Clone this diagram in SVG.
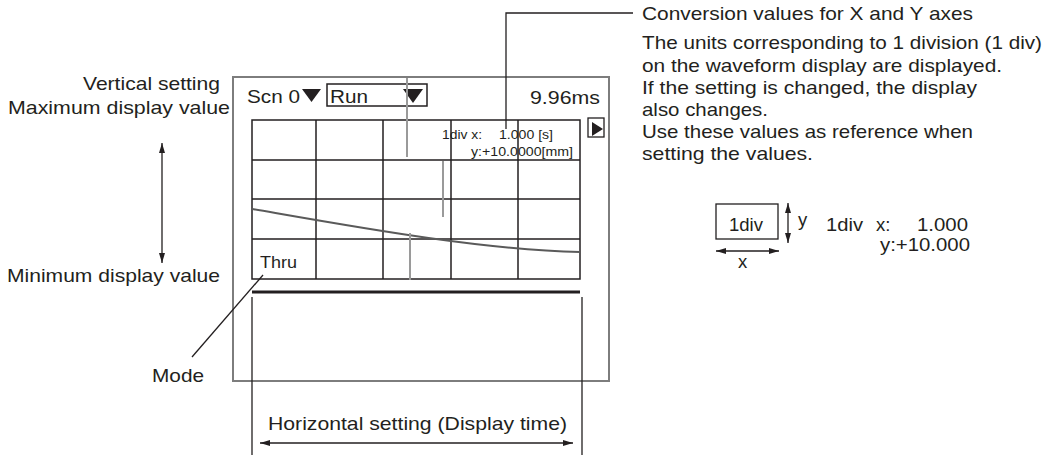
<svg xmlns="http://www.w3.org/2000/svg" width="1060" height="457" viewBox="0 0 1060 457">
<style>
text{font-family:"Liberation Sans",Arial,Helvetica,sans-serif;fill:#231f20;font-size:18.5px}
.sm{font-size:13px}
.th{font-size:17px}
.frame{fill:none;stroke:#7d7d7d;stroke-width:2}
.grid{fill:none;stroke:#231f20;stroke-width:1.5}
.cur{stroke:#9a9a9a;stroke-width:2}
.ln{fill:none;stroke:#231f20;stroke-width:1.3}
.ar{fill:none;stroke:#231f20;stroke-width:1.3;marker-start:url(#ah);marker-end:url(#ah)}
</style>
<defs>
<marker id="ah" viewBox="0 0 10 6" refX="10" refY="3" markerWidth="10" markerHeight="6" markerUnits="userSpaceOnUse" orient="auto-start-reverse">
<path d="M0,0 L10,3 L0,6 Z" fill="#231f20"/>
</marker>
</defs>
<rect width="1060" height="457" fill="#fff"/>

<g id="vertical-setting">
<text x="83" y="90" textLength="137" lengthAdjust="spacingAndGlyphs">Vertical setting</text>
<text x="8" y="114" textLength="222" lengthAdjust="spacingAndGlyphs">Maximum display value</text>
<text x="7" y="282" textLength="213" lengthAdjust="spacingAndGlyphs">Minimum display value</text>
</g>
<g id="mode-label">
<text x="152" y="382" textLength="52" lengthAdjust="spacingAndGlyphs">Mode</text>
</g>

<g id="screen">
<rect class="frame" x="233" y="77" width="376" height="304"/>
<text x="247" y="103" textLength="53" lengthAdjust="spacingAndGlyphs">Scn 0</text>
<polygon points="302,89 321,89 311.5,102" fill="#231f20"/>
<rect x="327" y="84" width="100" height="22" fill="none" stroke="#231f20" stroke-width="1.5"/>
<text x="330" y="103" textLength="38" lengthAdjust="spacingAndGlyphs">Run</text>
<polygon points="403,89 423,89 413,103" fill="#231f20"/>
<text x="530" y="104" textLength="70" lengthAdjust="spacingAndGlyphs">9.96ms</text>
<rect x="588" y="118" width="16" height="19" fill="none" stroke="#231f20" stroke-width="1.3"/>
<polygon points="592,122 592,136 603,129" fill="#231f20"/>
<g id="grid">
<rect class="grid" x="252" y="120" width="328" height="159"/>
<path class="grid" d="M316,120V279M383,120V279M451,120V279M518,120V279M252,160H580M252,199H580M252,239H580"/>
</g>
<path d="M252,209 C350,226 480,250 580,252" fill="none" stroke="#5a5a5a" stroke-width="2"/>
<line class="cur" x1="407" y1="78" x2="407" y2="157"/>
<line class="cur" x1="443" y1="161" x2="443" y2="217"/>
<line class="cur" x1="410" y1="233" x2="410" y2="280"/>
<text class="sm" x="442" y="139" textLength="40" lengthAdjust="spacingAndGlyphs">1div x:</text>
<text class="sm" x="499" y="139" textLength="54" lengthAdjust="spacingAndGlyphs">1.000 [s]</text>
<text class="sm" x="471" y="156" textLength="102" lengthAdjust="spacingAndGlyphs">y:+10.0000[mm]</text>
<text class="th" x="260" y="268" textLength="37" lengthAdjust="spacingAndGlyphs">Thru</text>
<line x1="252" y1="292" x2="580" y2="292" stroke="#231f20" stroke-width="3"/>
</g>

<g id="horizontal-setting">
<text x="268" y="430" textLength="299" lengthAdjust="spacingAndGlyphs">Horizontal setting (Display time)</text>
</g>

<g id="conversion-text">
<text x="642" y="20" textLength="331" lengthAdjust="spacingAndGlyphs">Conversion values for X and Y axes</text>
<text x="642" y="49" textLength="400" lengthAdjust="spacingAndGlyphs">The units corresponding to 1 division (1 div)</text>
<text x="642" y="72" textLength="360" lengthAdjust="spacingAndGlyphs">on the waveform display are displayed.</text>
<text x="642" y="94" textLength="335" lengthAdjust="spacingAndGlyphs">If the setting is changed, the display</text>
<text x="642" y="116" textLength="126" lengthAdjust="spacingAndGlyphs">also changes.</text>
<text x="642" y="138" textLength="331" lengthAdjust="spacingAndGlyphs">Use these values as reference when</text>
<text x="642" y="160" textLength="171" lengthAdjust="spacingAndGlyphs">setting the values.</text>
</g>

<g id="legend">
<rect x="716" y="204" width="62" height="35" fill="none" stroke="#231f20" stroke-width="1.3"/>
<text x="729" y="231" font-size="17" textLength="34" lengthAdjust="spacingAndGlyphs">1div</text>
<text x="738" y="268">x</text>
<text x="798" y="226">y</text>
<text x="826" y="231" textLength="37" lengthAdjust="spacingAndGlyphs">1div</text>
<text x="876" y="231">x:</text>
<text x="917" y="231" textLength="51" lengthAdjust="spacingAndGlyphs">1.000</text>
<text x="880" y="251" textLength="90" lengthAdjust="spacingAndGlyphs">y:+10.000</text>
</g>

<g id="connectors">
<line class="ar" x1="162" y1="143" x2="162" y2="263"/>
<line class="ln" x1="192" y1="357" x2="263" y2="275"/>
<polyline class="ln" points="506,129 506,13 633,13"/>
<line class="ln" x1="252" y1="297" x2="252" y2="455"/>
<line class="ln" x1="582" y1="297" x2="582" y2="455"/>
<line class="ar" x1="260" y1="443" x2="573" y2="443"/>
<line class="ar" x1="716" y1="251" x2="779" y2="251"/>
<line class="ar" x1="788" y1="203" x2="788" y2="243"/>
</g>
</svg>
